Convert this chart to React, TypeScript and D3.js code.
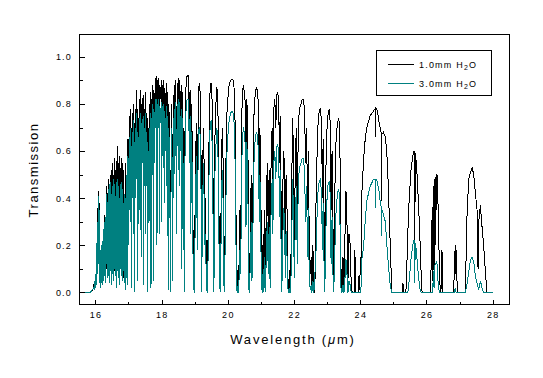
import React from "react";
import * as d3 from "d3";

// 1.0 mm H2O transmission spectrum: [wavelength µm, transmission]
const h2o1mm: [number, number][] = [
  [15.52, 0], [15.85, 0], [15.88, 0.01], [15.92, 0.01], [15.95, 0.03], [15.98, 0.02],
  [16.0, 0.06], [16.02, 0.04], [16.04, 0.16], [16.05, 0.08], [16.07, 0.36], [16.08, 0.25],
  [16.09, 0.43], [16.1, 0.3], [16.11, 0.38], [16.12, 0.05], [16.13, 0.34], [16.14, 0.15],
  [16.16, 0.02], [16.18, 0.12], [16.19, 0.05], [16.21, 0.17], [16.22, 0.06], [16.24, 0.27],
  [16.25, 0.1], [16.27, 0.33], [16.28, 0.12], [16.3, 0.3], [16.31, 0.05], [16.33, 0.42],
  [16.34, 0.1], [16.35, 0.45], [16.36, 0.15], [16.38, 0.4], [16.39, 0.08], [16.4, 0.48],
  [16.41, 0.12], [16.43, 0.45], [16.44, 0.07], [16.45, 0.5], [16.46, 0.14], [16.48, 0.52],
  [16.49, 0.08], [16.5, 0.47], [16.51, 0.15], [16.53, 0.55], [16.54, 0.05], [16.55, 0.5],
  [16.56, 0.13], [16.58, 0.57], [16.59, 0.09], [16.6, 0.52], [16.61, 0.16], [16.63, 0.56],
  [16.64, 0.06], [16.65, 0.5], [16.66, 0.12], [16.68, 0.62], [16.69, 0.1], [16.7, 0.55],
  [16.71, 0.18], [16.73, 0.58], [16.74, 0.04], [16.75, 0.53], [16.76, 0.14], [16.78, 0.57],
  [16.79, 0.08], [16.8, 0.5], [16.81, 0.2], [16.83, 0.55], [16.84, 0.06], [16.86, 0.52],
  [16.87, 0.15], [16.89, 0.42], [16.9, 0.02], [16.92, 0.55], [16.93, 0.18], [16.95, 0.48],
  [16.96, 0.05], [16.98, 0.65], [17.0, 0.25], [17.02, 0.75], [17.03, 0.4], [17.05, 0.78],
  [17.06, 0.35], [17.08, 0.7], [17.09, 0.05], [17.11, 0.76], [17.12, 0.45], [17.14, 0.8],
  [17.15, 0.3], [17.17, 0.72], [17.18, 0.02], [17.2, 0.78], [17.22, 0.45], [17.24, 0.86],
  [17.25, 0.55], [17.27, 0.78], [17.28, 0.1], [17.3, 0.74], [17.32, 0.4], [17.34, 0.82],
  [17.35, 0.5], [17.37, 0.86], [17.38, 0.2], [17.4, 0.8], [17.42, 0.62], [17.44, 0.84],
  [17.45, 0.08], [17.47, 0.78], [17.49, 0.5], [17.51, 0.85], [17.52, 0.3], [17.54, 0.76],
  [17.55, 0.6], [17.57, 0.74], [17.58, 0.02], [17.6, 0.7], [17.62, 0.4], [17.64, 0.8],
  [17.65, 0.55], [17.67, 0.85], [17.68, 0.25], [17.7, 0.82], [17.72, 0.6], [17.74, 0.88],
  [17.75, 0.2], [17.77, 0.86], [17.79, 0.65], [17.81, 0.91], [17.83, 0.8], [17.85, 0.92],
  [17.86, 0.3], [17.88, 0.9], [17.9, 0.8], [17.92, 0.91], [17.93, 0.35], [17.95, 0.88],
  [17.97, 0.82], [17.99, 0.9], [18.0, 0.45], [18.02, 0.88], [18.04, 0.7], [18.06, 0.9],
  [18.08, 0.55], [18.1, 0.87], [18.12, 0.72], [18.14, 0.89], [18.16, 0.6], [18.18, 0.85],
  [18.2, 0.05], [18.22, 0.8], [18.25, 0.55], [18.27, 0.02], [18.29, 0.7], [18.31, 0.8],
  [18.33, 0.15], [18.35, 0.84], [18.37, 0.55], [18.39, 0.88], [18.41, 0.7], [18.43, 0.9],
  [18.45, 0.4], [18.47, 0.89], [18.49, 0.75], [18.51, 0.91], [18.53, 0.6], [18.55, 0.9],
  [18.57, 0.72], [18.59, 0.88], [18.61, 0.2], [18.63, 0.85], [18.65, 0.3], [18.67, 0.7],
  [18.69, 0.02], [18.71, 0.78], [18.74, 0.88], [18.77, 0.92], [18.8, 0.92], [18.82, 0.88],
  [18.84, 0.7], [18.86, 0.86], [18.88, 0.4], [18.91, 0.8], [18.93, 0.55], [18.96, 0.1],
  [18.99, 0.0], [19.02, 0.5], [19.05, 0.72], [19.08, 0.3], [19.11, 0.85], [19.14, 0.89],
  [19.17, 0.84], [19.19, 0.6], [19.21, 0.04], [19.24, 0.55], [19.27, 0.7], [19.3, 0.35],
  [19.33, 0.4], [19.35, 0.1], [19.38, 0.0], [19.41, 0.3], [19.44, 0.75], [19.47, 0.88],
  [19.5, 0.89], [19.53, 0.8], [19.56, 0.4], [19.58, 0.02], [19.61, 0.65], [19.64, 0.8],
  [19.67, 0.87], [19.7, 0.82], [19.72, 0.5], [19.75, 0.15], [19.77, 0.01], [19.8, 0.4],
  [19.83, 0.7], [19.86, 0.55], [19.88, 0.1], [19.9, 0.0], [19.93, 0.45], [19.97, 0.75],
  [20.0, 0.82], [20.04, 0.88], [20.08, 0.9], [20.12, 0.905], [20.17, 0.9], [20.2, 0.85],
  [20.22, 0.72], [20.24, 0.45], [20.26, 0.15], [20.28, 0.0], [20.31, 0.1], [20.33, 0.02],
  [20.36, 0.35], [20.39, 0.2], [20.42, 0.75], [20.45, 0.86], [20.47, 0.88], [20.5, 0.85],
  [20.53, 0.8], [20.55, 0.45], [20.57, 0.82], [20.6, 0.75], [20.62, 0.4], [20.64, 0.05],
  [20.66, 0.0], [20.68, 0.3], [20.71, 0.5], [20.73, 0.15], [20.76, 0.45], [20.79, 0.75],
  [20.83, 0.85], [20.87, 0.87], [20.9, 0.85], [20.93, 0.78], [20.95, 0.5], [20.97, 0.7],
  [21.0, 0.4], [21.02, 0.1], [21.04, 0.0], [21.07, 0.25], [21.09, 0.05], [21.12, 0.35],
  [21.14, 0.0], [21.17, 0.45], [21.2, 0.55], [21.22, 0.25], [21.25, 0.52], [21.28, 0.1],
  [21.31, 0.6], [21.34, 0.7], [21.36, 0.45], [21.39, 0.78], [21.42, 0.82], [21.45, 0.7],
  [21.48, 0.84], [21.51, 0.85], [21.54, 0.8], [21.56, 0.55], [21.58, 0.75], [21.61, 0.4],
  [21.63, 0.05], [21.65, 0.3], [21.68, 0.6], [21.71, 0.55], [21.74, 0.2], [21.76, 0.5],
  [21.79, 0.35], [21.82, 0.05], [21.85, 0.0], [21.88, 0.1], [21.9, 0.02], [21.93, 0.45],
  [21.96, 0.74], [21.98, 0.6], [22.01, 0.2], [22.04, 0.55], [22.07, 0.7], [22.1, 0.3],
  [22.13, 0.72], [22.17, 0.78], [22.21, 0.8], [22.25, 0.82], [22.29, 0.82], [22.32, 0.76],
  [22.35, 0.55], [22.38, 0.7], [22.41, 0.35], [22.43, 0.6], [22.46, 0.25], [22.49, 0.08],
  [22.52, 0.15], [22.54, 0.01], [22.57, 0.2], [22.6, 0.05], [22.63, 0.0], [22.66, 0.35],
  [22.69, 0.55], [22.72, 0.7], [22.76, 0.77], [22.8, 0.78], [22.83, 0.72], [22.86, 0.4],
  [22.88, 0.65], [22.91, 0.3], [22.93, 0.05], [22.96, 0.5], [22.99, 0.68], [23.03, 0.76],
  [23.07, 0.78], [23.1, 0.7], [23.12, 0.35], [23.15, 0.6], [23.18, 0.25], [23.2, 0.02],
  [23.23, 0.4], [23.26, 0.62], [23.3, 0.7], [23.34, 0.74], [23.37, 0.72], [23.4, 0.5],
  [23.42, 0.1], [23.45, 0.02], [23.48, 0.15], [23.51, 0.0], [23.54, 0.24], [23.57, 0.43],
  [23.6, 0.3], [23.63, 0.05], [23.66, 0.25], [23.7, 0.2], [23.73, 0.02], [23.76, 0.0],
  [23.82, 0.0], [23.84, 0.18], [23.86, 0.0], [23.94, 0.0], [23.96, 0.07], [23.98, 0.01],
  [24.01, 0.15], [24.03, 0.1], [24.05, 0.42], [24.1, 0.56], [24.15, 0.65], [24.2, 0.7],
  [24.3, 0.75], [24.4, 0.77], [24.45, 0.78], [24.46, 0.66], [24.47, 0.78], [24.5, 0.78],
  [24.53, 0.76], [24.57, 0.72], [24.6, 0.7], [24.63, 0.68], [24.64, 0.39], [24.65, 0.67],
  [24.7, 0.68], [24.76, 0.66], [24.8, 0.6], [24.83, 0.52], [24.86, 0.4], [24.89, 0.28],
  [24.92, 0.14], [24.96, 0.0], [25.27, 0.0], [25.29, 0.04], [25.31, 0.0], [25.38, 0.0],
  [25.41, 0.12], [25.44, 0.26], [25.48, 0.4], [25.54, 0.53], [25.6, 0.59], [25.62, 0.6],
  [25.64, 0.6], [25.65, 0.1], [25.66, 0.59], [25.68, 0.57], [25.71, 0.52], [25.76, 0.38],
  [25.81, 0.21], [25.84, 0.08], [25.87, 0.0], [26.12, 0.0], [26.15, 0.15], [26.17, 0.31],
  [26.19, 0.05], [26.2, 0.38], [26.22, 0.45], [26.23, 0.08], [26.24, 0.46], [26.27, 0.49],
  [26.28, 0.2], [26.3, 0.5], [26.32, 0.5], [26.35, 0.38], [26.37, 0.24], [26.4, 0.07],
  [26.42, 0.0], [26.45, 0.02], [26.47, 0.18], [26.49, 0.0], [26.82, 0.0], [26.85, 0.12],
  [26.87, 0.2], [26.88, 0.08], [26.9, 0.18], [26.93, 0.02], [26.96, 0.0], [27.17, 0.0],
  [27.2, 0.15], [27.23, 0.35], [27.28, 0.48], [27.33, 0.51], [27.38, 0.53], [27.43, 0.5],
  [27.48, 0.42], [27.53, 0.35], [27.56, 0.1], [27.58, 0.3], [27.63, 0.37], [27.68, 0.28],
  [27.73, 0.2], [27.78, 0.09], [27.83, 0.0], [28.0, 0.0],
];

// 3.0 mm H2O transmission spectrum: [wavelength µm, transmission]
const h2o3mm: [number, number][] = [
  [15.52, 0], [15.84, 0], [15.87, 0.005], [15.9, 0.01], [15.93, 0.015], [15.95, 0.02],
  [15.97, 0.01], [15.99, 0.05], [16.0, 0.02], [16.01, 0.08], [16.02, 0.03], [16.03, 0.12],
  [16.04, 0.05], [16.05, 0.22], [16.06, 0.08], [16.07, 0.3], [16.08, 0.12], [16.09, 0.41],
  [16.1, 0.15], [16.11, 0.35], [16.12, 0.04], [16.13, 0.25], [16.14, 0.06], [16.15, 0.18],
  [16.16, 0.02], [16.17, 0.12], [16.18, 0.04], [16.19, 0.2], [16.2, 0.06], [16.21, 0.15],
  [16.22, 0.03], [16.23, 0.22], [16.24, 0.08], [16.25, 0.27], [16.26, 0.05], [16.27, 0.3],
  [16.28, 0.1], [16.29, 0.24], [16.3, 0.04], [16.31, 0.32], [16.32, 0.08], [16.33, 0.38],
  [16.34, 0.12], [16.35, 0.42], [16.36, 0.06], [16.37, 0.36], [16.38, 0.1], [16.39, 0.44],
  [16.4, 0.07], [16.41, 0.4], [16.42, 0.13], [16.43, 0.46], [16.44, 0.04], [16.45, 0.38],
  [16.46, 0.09], [16.47, 0.47], [16.48, 0.11], [16.49, 0.42], [16.5, 0.03], [16.51, 0.45],
  [16.52, 0.08], [16.53, 0.4], [16.54, 0.12], [16.55, 0.48], [16.56, 0.05], [16.57, 0.43],
  [16.58, 0.1], [16.59, 0.46], [16.6, 0.07], [16.61, 0.41], [16.62, 0.13], [16.63, 0.47],
  [16.64, 0.02], [16.65, 0.44], [16.66, 0.09], [16.67, 0.48], [16.68, 0.11], [16.69, 0.42],
  [16.7, 0.06], [16.71, 0.45], [16.72, 0.12], [16.73, 0.4], [16.74, 0.03], [16.75, 0.46],
  [16.76, 0.1], [16.77, 0.43], [16.78, 0.07], [16.79, 0.47], [16.8, 0.13], [16.81, 0.41],
  [16.82, 0.05], [16.83, 0.44], [16.84, 0.09], [16.85, 0.38], [16.86, 0.12], [16.87, 0.42],
  [16.88, 0.04], [16.89, 0.36], [16.9, 0.01], [16.91, 0.4], [16.92, 0.1], [16.93, 0.45],
  [16.94, 0.06], [16.95, 0.5], [16.96, 0.03], [16.98, 0.58], [17.0, 0.2], [17.02, 0.66],
  [17.03, 0.35], [17.05, 0.7], [17.06, 0.3], [17.08, 0.62], [17.09, 0.02], [17.11, 0.68],
  [17.12, 0.4], [17.14, 0.73], [17.15, 0.25], [17.17, 0.64], [17.18, 0.0], [17.2, 0.7],
  [17.22, 0.4], [17.24, 0.76], [17.25, 0.48], [17.27, 0.68], [17.28, 0.05], [17.3, 0.66],
  [17.32, 0.35], [17.34, 0.74], [17.35, 0.44], [17.37, 0.76], [17.38, 0.15], [17.4, 0.72],
  [17.42, 0.55], [17.44, 0.75], [17.45, 0.03], [17.47, 0.7], [17.49, 0.45], [17.51, 0.76],
  [17.52, 0.25], [17.54, 0.68], [17.55, 0.5], [17.57, 0.64], [17.58, 0.0], [17.6, 0.6],
  [17.62, 0.3], [17.64, 0.7], [17.65, 0.45], [17.67, 0.76], [17.68, 0.02], [17.7, 0.74],
  [17.72, 0.5], [17.74, 0.8], [17.75, 0.05], [17.77, 0.78], [17.79, 0.55], [17.81, 0.82],
  [17.83, 0.7], [17.85, 0.82], [17.86, 0.2], [17.88, 0.8], [17.9, 0.7], [17.92, 0.82],
  [17.93, 0.25], [17.95, 0.79], [17.97, 0.72], [17.99, 0.81], [18.0, 0.3], [18.02, 0.79],
  [18.04, 0.58], [18.06, 0.8], [18.08, 0.38], [18.1, 0.77], [18.12, 0.6], [18.14, 0.79],
  [18.16, 0.45], [18.18, 0.75], [18.2, 0.01], [18.22, 0.7], [18.25, 0.4], [18.27, 0.0],
  [18.29, 0.58], [18.31, 0.7], [18.33, 0.05], [18.35, 0.74], [18.37, 0.4], [18.39, 0.78],
  [18.41, 0.58], [18.43, 0.81], [18.45, 0.25], [18.47, 0.8], [18.49, 0.62], [18.51, 0.82],
  [18.53, 0.45], [18.55, 0.81], [18.57, 0.6], [18.59, 0.78], [18.61, 0.1], [18.63, 0.74],
  [18.65, 0.18], [18.67, 0.55], [18.69, 0.0], [18.71, 0.66], [18.74, 0.78], [18.77, 0.82],
  [18.8, 0.82], [18.82, 0.78], [18.84, 0.55], [18.86, 0.75], [18.88, 0.25], [18.91, 0.68],
  [18.93, 0.4], [18.96, 0.03], [18.99, 0.0], [19.02, 0.35], [19.05, 0.58], [19.08, 0.18],
  [19.11, 0.68], [19.14, 0.7], [19.17, 0.66], [19.19, 0.45], [19.21, 0.0], [19.24, 0.4],
  [19.27, 0.55], [19.3, 0.2], [19.33, 0.25], [19.35, 0.03], [19.38, 0.0], [19.41, 0.18],
  [19.44, 0.6], [19.47, 0.72], [19.5, 0.73], [19.53, 0.62], [19.56, 0.25], [19.58, 0.0],
  [19.61, 0.5], [19.64, 0.62], [19.67, 0.7], [19.7, 0.64], [19.72, 0.35], [19.75, 0.06],
  [19.77, 0.0], [19.8, 0.25], [19.83, 0.52], [19.86, 0.38], [19.88, 0.04], [19.9, 0.0],
  [19.93, 0.3], [19.97, 0.58], [20.0, 0.66], [20.04, 0.73], [20.08, 0.76], [20.12, 0.77],
  [20.17, 0.76], [20.2, 0.7], [20.22, 0.55], [20.24, 0.3], [20.26, 0.06], [20.28, 0.0],
  [20.31, 0.03], [20.33, 0.0], [20.36, 0.18], [20.39, 0.08], [20.42, 0.55], [20.45, 0.66],
  [20.47, 0.7], [20.5, 0.68], [20.53, 0.62], [20.55, 0.28], [20.57, 0.64], [20.6, 0.55],
  [20.62, 0.22], [20.64, 0.01], [20.66, 0.0], [20.68, 0.15], [20.71, 0.3], [20.73, 0.05],
  [20.76, 0.28], [20.79, 0.55], [20.83, 0.66], [20.87, 0.68], [20.9, 0.66], [20.93, 0.58],
  [20.95, 0.3], [20.97, 0.5], [21.0, 0.2], [21.02, 0.03], [21.04, 0.0], [21.07, 0.1],
  [21.09, 0.0], [21.12, 0.15], [21.14, 0.0], [21.17, 0.22], [21.2, 0.3], [21.22, 0.08],
  [21.25, 0.28], [21.28, 0.02], [21.31, 0.38], [21.34, 0.48], [21.36, 0.25], [21.39, 0.55],
  [21.42, 0.6], [21.45, 0.48], [21.48, 0.62], [21.51, 0.63], [21.54, 0.58], [21.56, 0.32],
  [21.58, 0.52], [21.61, 0.2], [21.63, 0.0], [21.65, 0.12], [21.68, 0.36], [21.71, 0.32],
  [21.74, 0.06], [21.76, 0.26], [21.79, 0.15], [21.82, 0.01], [21.85, 0.0], [21.88, 0.02],
  [21.9, 0.0], [21.93, 0.22], [21.96, 0.48], [21.98, 0.35], [22.01, 0.06], [22.04, 0.3],
  [22.07, 0.45], [22.1, 0.12], [22.13, 0.48], [22.17, 0.53], [22.21, 0.55], [22.25, 0.57],
  [22.29, 0.57], [22.32, 0.5], [22.35, 0.3], [22.38, 0.45], [22.41, 0.15], [22.43, 0.36],
  [22.46, 0.08], [22.49, 0.01], [22.52, 0.03], [22.54, 0.0], [22.57, 0.05], [22.6, 0.0],
  [22.66, 0.15], [22.69, 0.3], [22.72, 0.42], [22.76, 0.47], [22.8, 0.48], [22.83, 0.42],
  [22.86, 0.18], [22.88, 0.38], [22.91, 0.1], [22.93, 0.0], [22.96, 0.25], [22.99, 0.38],
  [23.03, 0.46], [23.07, 0.47], [23.1, 0.4], [23.12, 0.12], [23.15, 0.32], [23.18, 0.06],
  [23.2, 0.0], [23.23, 0.15], [23.26, 0.32], [23.3, 0.4], [23.34, 0.44], [23.37, 0.42],
  [23.4, 0.22], [23.42, 0.02], [23.45, 0.0], [23.48, 0.03], [23.51, 0.0], [23.54, 0.06],
  [23.57, 0.14], [23.6, 0.08], [23.63, 0.0], [23.66, 0.05], [23.7, 0.03], [23.73, 0.0],
  [24.0, 0.0], [24.03, 0.03], [24.05, 0.14], [24.1, 0.19], [24.15, 0.3], [24.2, 0.39],
  [24.3, 0.45], [24.4, 0.48], [24.45, 0.48], [24.46, 0.36], [24.47, 0.48], [24.5, 0.48],
  [24.53, 0.46], [24.57, 0.43], [24.6, 0.39], [24.64, 0.36], [24.65, 0.24], [24.66, 0.35],
  [24.7, 0.33], [24.76, 0.3], [24.8, 0.21], [24.85, 0.12], [24.9, 0.04], [24.95, 0.0],
  [25.44, 0.0], [25.48, 0.05], [25.54, 0.15], [25.6, 0.21], [25.62, 0.22], [25.64, 0.22],
  [25.65, 0.04], [25.66, 0.21], [25.68, 0.2], [25.71, 0.15], [25.76, 0.07], [25.81, 0.01],
  [25.84, 0.0], [26.17, 0.0], [26.2, 0.04], [26.22, 0.09], [26.23, 0.02], [26.25, 0.11],
  [26.27, 0.12], [26.3, 0.13], [26.32, 0.12], [26.35, 0.05], [26.38, 0.01], [26.4, 0.0],
  [26.85, 0.0], [26.87, 0.02], [26.9, 0.0], [27.18, 0.0], [27.23, 0.04], [27.28, 0.09],
  [27.33, 0.14], [27.38, 0.15], [27.43, 0.13], [27.48, 0.07], [27.53, 0.04], [27.58, 0.01],
  [27.63, 0.05], [27.68, 0.02], [27.73, 0.0], [28.0, 0.0],
];

const xMajorTicks = [16, 18, 20, 22, 24, 26, 28];
const xMinorTicks = [17, 19, 21, 23, 25, 27];
const yMajorTicks = [0, 0.2, 0.4, 0.6, 0.8, 1.0];
const yMinorTicks = [0.1, 0.3, 0.5, 0.7, 0.9];
const legendLabels = ["1.0mm H", "3.0mm H"];

const W = 543;
const H = 378;
const L = 79.5, R = 509.5, T = 34.5, B = 304.5;
const TEAL = "#008080";
const FONT = "'Liberation Sans', Arial, sans-serif";

export default function App() {
  const x = d3.scaleLinear().domain([15.52, 28.51]).range([L, R]);
  const y = d3.scaleLinear().domain([-0.051, 1.095]).range([B, T]);
  const line = d3
    .line<[number, number]>()
    .x((d) => x(d[0]))
    .y((d) => y(d[1]));

  const colors = ["#000", TEAL];

  return (
    <svg
      width={W}
      height={H}
      style={{ position: "absolute", left: 0, top: 0, background: "#fff" }}
      fontFamily={FONT}
    >
      <rect x={0} y={0} width={W} height={H} fill="#fff" />
      <g shapeRendering="crispEdges">
        <path d={line(h2o1mm) || ""} fill="none" stroke="#000" strokeWidth={1} />
        <path d={line(h2o3mm) || ""} fill="none" stroke={TEAL} strokeWidth={1} />
      </g>
      <rect x={L} y={T} width={R - L} height={B - T} fill="none" stroke="#000" strokeWidth={1} shapeRendering="crispEdges" />
      {/* x ticks */}
      <g stroke="#000" shapeRendering="crispEdges">
        {xMajorTicks.map((t) => (
          <line key={"xM" + t} x1={Math.round(x(t)) + 0.5} x2={Math.round(x(t)) + 0.5} y1={B} y2={B - 5} />
        ))}
        {xMinorTicks.map((t) => (
          <line key={"xm" + t} x1={Math.round(x(t)) + 0.5} x2={Math.round(x(t)) + 0.5} y1={B} y2={B - 3} />
        ))}
        {yMajorTicks.map((t) => (
          <line key={"yM" + t} x1={L} x2={L + 5} y1={Math.round(y(t)) + 0.5} y2={Math.round(y(t)) + 0.5} />
        ))}
        {yMinorTicks.map((t) => (
          <line key={"ym" + t} x1={L} x2={L + 3} y1={Math.round(y(t)) + 0.5} y2={Math.round(y(t)) + 0.5} />
        ))}
      </g>
      {xMajorTicks.map((t) => (
        <text key={"xl" + t} x={x(t) + 0.7} y={318} fontSize={9} letterSpacing={1.4} textAnchor="middle" fill="#000">
          {t}
        </text>
      ))}
      {yMajorTicks.map((t) => (
        <text key={"yl" + t} x={72} y={y(t) + 3.3} fontSize={9} letterSpacing={1.2} textAnchor="end" fill="#000">
          {t.toFixed(1)}
        </text>
      ))}
      <text x={293} y={344} fontSize={13} letterSpacing={1.8} textAnchor="middle" fill="#000">
        Wavelength (<tspan fontStyle="italic">μ</tspan>m)
      </text>
      <text
        transform="translate(38,170) rotate(-90)"
        fontSize={13}
        letterSpacing={1.5}
        textAnchor="middle"
        fill="#000"
      >
        Transmission
      </text>
      {/* legend */}
      <rect x={376.5} y={50.5} width={115} height={45} fill="#fff" stroke="#000" strokeWidth={1} shapeRendering="crispEdges" />
      {legendLabels.map((lab, i) => {
        const ly = i === 0 ? 64.5 : 83.5;
        return (
          <g key={lab}>
            <line x1={388} x2={414} y1={ly} y2={ly} stroke={colors[i]} strokeWidth={1} shapeRendering="crispEdges" />
            <text x={419} y={ly + 3} fontSize={9} letterSpacing={1.2} fill="#000">
              {lab}
              <tspan fontSize={7} dy={2}>2</tspan>
              <tspan dy={-2}>O</tspan>
            </text>
          </g>
        );
      })}
    </svg>
  );
}
